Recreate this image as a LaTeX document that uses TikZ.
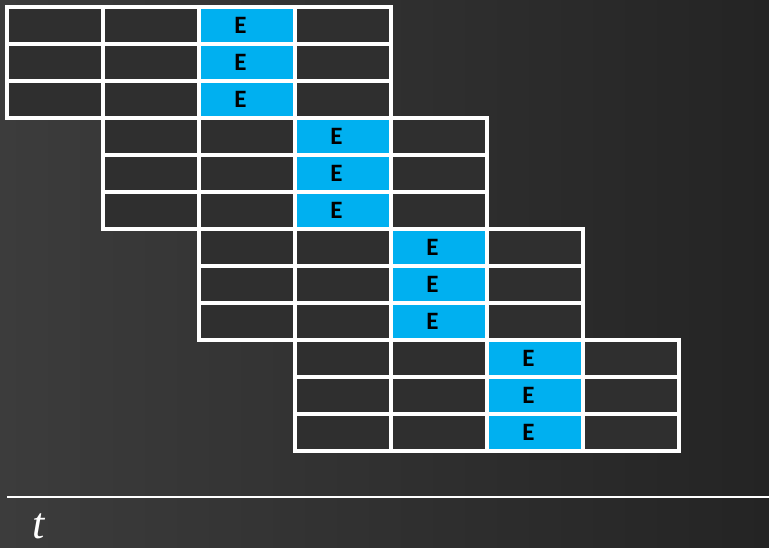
\documentclass[tikz,border=0pt]{standalone}
\usepackage{fontspec}
\newfontfamily\cellfont{Carlito}
\newfontfamily\tfont{Liberation Serif}
\usetikzlibrary{positioning}
\definecolor{bglight}{RGB}{60,60,60}
\definecolor{bgdark}{RGB}{36,36,36}
\definecolor{cellfill}{RGB}{47,47,47}
\definecolor{ecyan}{RGB}{0,176,240}
\tikzset{
  cellbox/.style={draw=white, line width=3.5pt, fill=cellfill,
    minimum width=96pt, minimum height=37pt, inner sep=0pt, outer sep=0pt},
  ebox/.style={cellbox, fill=ecyan, text=black,
    font=\cellfont\bfseries\fontsize{25}{25}\selectfont},
  timeline/.style={draw=white, line width=2.5pt},
}

\begin{document}
\begin{tikzpicture}[x=1pt, y=-1pt]

% ---------- background ----------
\shade[left color=bglight, right color=bgdark] (0,0) rectangle (769,547);
\useasboundingbox (0,0) rectangle (769,547);

% ---------- staggered blocks: 4 groups of 3 rows x 4 cells ----------
\foreach \g in {0,...,3}{
  \foreach \r in {0,1,2}{
    \foreach \c in {0,...,3}{
      \pgfmathsetmacro{\cx}{55+96*(\g+\c)}
      \pgfmathsetmacro{\cy}{25.5+111*\g+37*\r}
      \ifnum\c=2
        \node[ebox] (cell-\g-\r-\c) at (\cx,\cy) {\hspace*{-13pt}E};
      \else
        \node[cellbox] (cell-\g-\r-\c) at (\cx,\cy) {};
      \fi
    }}}

% ---------- time axis ----------
\coordinate (tstart) at (7,497);
\coordinate (tend) at (769,497);
\draw[timeline] (tstart) -- (tend);
\node[anchor=base, text=white, inner sep=0pt, font=\tfont\itshape\fontsize{44}{44}\selectfont]
  (tlabel) at (39,538) {t};

\end{tikzpicture}
\end{document}
